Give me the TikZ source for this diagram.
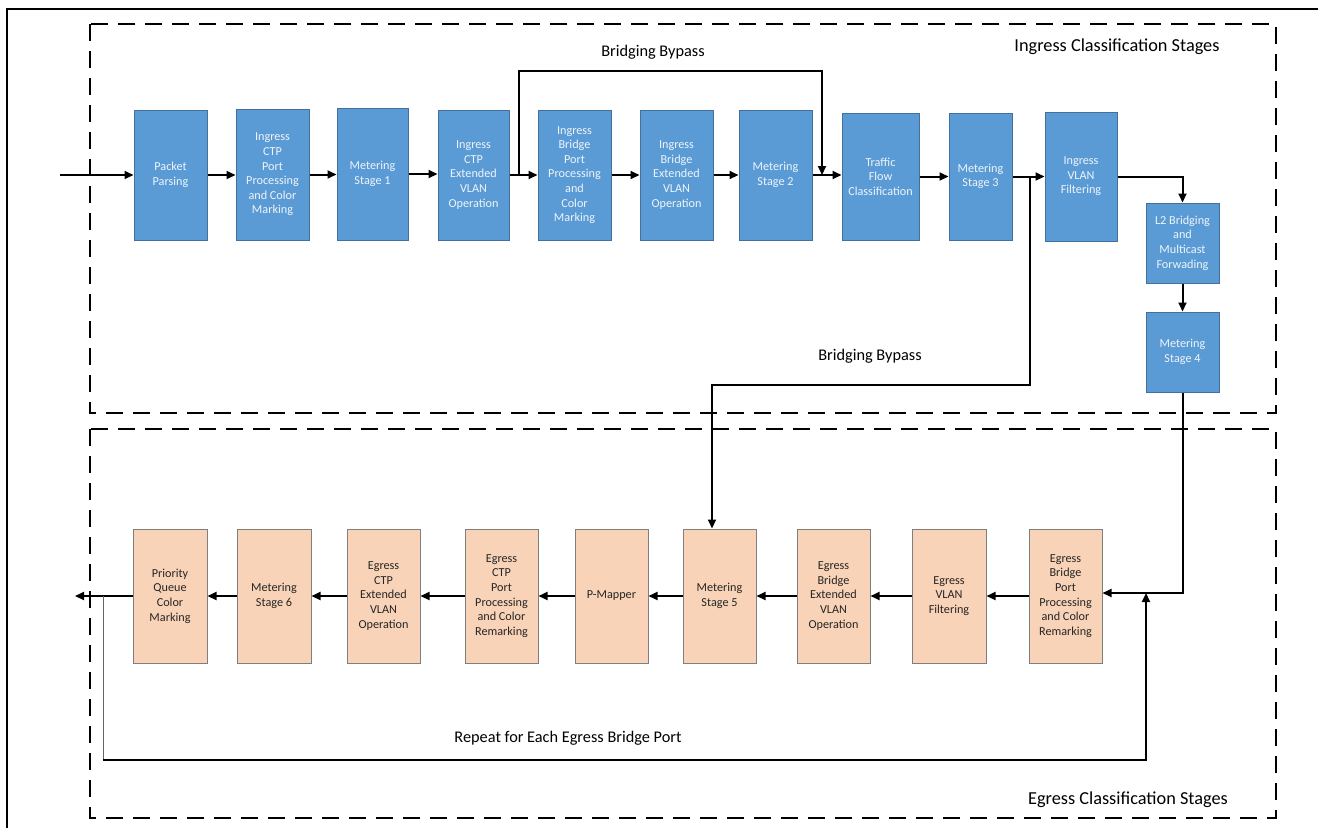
\documentclass[tikz,border=0pt]{standalone}
\usepackage{fontspec}
\setmainfont{Carlito}
\usetikzlibrary{arrows.meta,calc}
\definecolor{bluefill}{HTML}{5B9BD5}
\definecolor{blueedge}{HTML}{41719C}
\definecolor{bluetext}{HTML}{EEF4FB}
\definecolor{peachfill}{HTML}{F8D3B8}
\definecolor{peachedge}{HTML}{7F7F7F}
\definecolor{peachtext}{HTML}{262626}
\tikzset{
  ibox/.style={draw=blueedge, fill=bluefill, line width=1pt, text=bluetext, align=center,
    font=\fontsize{12.2}{14.6}\selectfont, inner sep=1pt},
  ebox/.style={draw=peachedge, fill=peachfill, line width=1pt, text=peachtext, align=center,
    font=\fontsize{12.2}{14.6}\selectfont, inner sep=1pt, minimum width=73pt, minimum height=134pt},
  conn/.style={line width=2pt, -{Triangle[length=9pt,width=8pt]}},
  stagebox/.style={draw, line width=2.2pt, dash pattern=on 17pt off 10pt},
  lbl/.style={font=\fontsize{16.3}{18}\selectfont, text=black},
  ttl/.style={font=\fontsize{18.3}{20}\selectfont, text=black},
}
\begin{document}
\begin{tikzpicture}[x=1pt,y=-1pt]
\useasboundingbox (0,0) rectangle (1318,828);
\fill[white] (0,0) rectangle (1318,828);
% outer frame
\draw[line width=1.3pt] (7,828) -- (7,9) -- (1318,9);
% stage boxes
\draw[stagebox] (90,24) rectangle (1276,413);
\draw[stagebox] (90,429) rectangle (1276,818);
\node[ttl] (ingt) at (1117,47) {Ingress Classification Stages};
\node[ttl] (egt) at (1128,800) {Egress Classification Stages};

% ingress boxes
\node[ibox, minimum width=73pt, minimum height=130pt] (pp) at (170.5,175) {Packet\\Parsing};
\node[ibox, minimum width=73pt, minimum height=131pt] (ictp) at (272.5,174.5) {Ingress\\CTP\\Port\\Processing\\and Color\\Marking};
\node[ibox, minimum width=71pt, minimum height=132pt] (m1) at (372.5,174) {Metering\\Stage 1};
\node[ibox, minimum width=71pt, minimum height=130pt] (iext) at (473.5,175) {Ingress\\CTP\\Extended\\VLAN\\Operation};
\node[ibox, minimum width=73pt, minimum height=130pt] (ibp) at (574.5,175) {Ingress\\Bridge\\Port\\Processing\\and\\Color\\Marking};
\node[ibox, minimum width=73pt, minimum height=130pt] (ibext) at (676.5,175) {Ingress\\Bridge\\Extended\\VLAN\\Operation};
\node[ibox, minimum width=73pt, minimum height=130pt] (m2) at (775.5,175) {Metering\\Stage 2};
\node[ibox, minimum width=77pt, minimum height=127pt] (tfc) at (880.5,176.5) {Traffic\\Flow\\Classification};
\node[ibox, minimum width=63pt, minimum height=127pt] (m3) at (980.5,176.5) {Metering\\Stage 3};
\node[ibox, minimum width=72pt, minimum height=129pt] (ivf) at (1081,176.5) {Ingress\\VLAN\\Filtering};
\node[ibox, minimum width=73pt, minimum height=80pt] (l2) at (1182.5,243) {L2 Bridging\\and\\Multicast\\Forwading};
\node[ibox, minimum width=73pt, minimum height=80pt] (m4) at (1182.5,352) {Metering\\Stage 4};

% egress boxes
\node[ebox, minimum width=74pt] (pq) at (170,596) {Priority\\Queue\\Color\\Marking};
\node[ebox, minimum width=74pt] (m6) at (274,596) {Metering\\Stage 6};
\node[ebox] (ectpext) at (383.5,596) {Egress\\CTP\\Extended\\VLAN\\Operation};
\node[ebox] (ectpp) at (501.5,596) {Egress\\CTP\\Port\\Processing\\and Color\\Remarking};
\node[ebox] (pm) at (611.5,596) {P-Mapper};
\node[ebox] (m5) at (719.5,596) {Metering\\Stage 5};
\node[ebox] (ebext) at (833.5,596) {Egress\\Bridge\\Extended\\VLAN\\Operation};
\node[ebox, minimum width=74pt] (evf) at (949,596) {Egress\\VLAN\\Filtering};
\node[ebox] (ebp) at (1065.5,596) {Egress\\Bridge\\Port\\Processing\\and Color\\Remarking};

% ingress connectors
\coordinate (in) at (60,175);
\draw[conn] (in) -- (pp.west);
\foreach \a/\b in {pp/ictp, ictp/m1, m1/iext, iext/ibp, ibp/ibext, ibext/m2, m2/tfc, tfc/m3, m3/ivf}
  \draw[conn] (\a.east) -- (\a.east -| \b.west);

% bridging bypass 1
\coordinate (j1) at (519,175);
\coordinate (b1) at (822,71);
\draw[conn] (j1) |- (b1) -- (b1 |- m2.east);
\node[lbl] (bb1) at (653,52) {Bridging Bypass};

% bridging bypass 2
\coordinate (j2) at (1030,176.5);
\coordinate (b2) at (712,385);
\draw[conn] (j2) |- (b2) -- (b2 |- m5.north);
\node[lbl] (bb2) at (870,356) {Bridging Bypass};

% to L2 and metering 4
\draw[conn] (ivf.east) -| (l2.north);
\draw[conn] (l2.south) -- (m4.north);
\coordinate (c3) at (1182.5,593);
\draw[conn] (m4.south) -- (c3) -- (c3 -| ebp.east);

% egress connectors
\foreach \a/\b in {ebp/evf, evf/ebext, ebext/m5, m5/pm, pm/ectpp, ectpp/ectpext, ectpext/m6, m6/pq}
  \draw[conn] (\a.west) -- (\a.west -| \b.east);
\coordinate (out) at (75,596);
\draw[conn] (pq.west) -- (out);

% repeat loop
\coordinate (r1) at (103,596);
\coordinate (r2) at (103,760);
\coordinate (r3) at (1146,760);
\draw[line width=0.9pt, black!60] (r1) -- (r2);
\draw[conn] (r2) -- (r3) -- (r3 |- c3);
\node[lbl] (rep) at (568,738) {Repeat for Each Egress Bridge Port};
\end{tikzpicture}
\end{document}
